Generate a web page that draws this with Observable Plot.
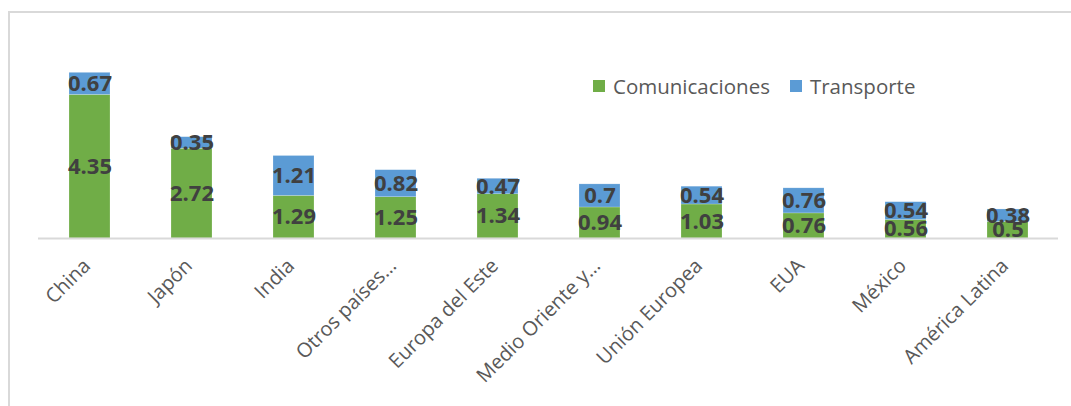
<!DOCTYPE html>
<html>
<head>
<meta charset="utf-8">
<script src="https://cdn.jsdelivr.net/npm/d3@7"></script>
<script src="https://cdn.jsdelivr.net/npm/@observablehq/plot@0.6"></script>
<style>
  html, body { margin: 0; padding: 0; background: #fff; }
  #wrap { position: relative; width: 1071px; height: 406px; overflow: hidden; font-family: "Open Sans", sans-serif; }
  #frame { position: absolute; left: 8px; top: 11px; right: 0; bottom: -5px; border-top: 2px solid #d9d9d9; border-left: 2px solid #d9d9d9; }
  #chart { position: absolute; left: 0; top: 0; }
  #legend { position: absolute; left: 593px; top: 72px; display: flex; align-items: center; font-size: 20.5px; color: #595959; white-space: nowrap; }
  #legend .sw { display: inline-block; width: 12px; height: 12px; margin-right: 8px; }
  #legend .item { display: flex; align-items: center; margin-right: 20px; }
</style>
</head>
<body>
<div id="wrap">
  <div id="frame"></div>
  <div id="chart"></div>
  <div id="legend"></div>
</div>
<script>
const categories = ["China", "Japón", "India", "Otros países…", "Europa del Este", "Medio Oriente y…", "Unión Europea", "EUA", "México", "América Latina"];
const comunicaciones = [4.35, 2.72, 1.29, 1.25, 1.34, 0.94, 1.03, 0.76, 0.56, 0.5];
const transporte = [0.67, 0.35, 1.21, 0.82, 0.47, 0.7, 0.54, 0.76, 0.54, 0.38];
const seriesNames = ["Comunicaciones", "Transporte"];
const seriesColors = ["#70ad47", "#5b9bd5"];

const data = [];
categories.forEach((c, i) => {
  data.push({cat: c, series: seriesNames[0], value: comunicaciones[i]});
  data.push({cat: c, series: seriesNames[1], value: transporte[i]});
});

const chart = Plot.plot({
  width: 1071,
  height: 406,
  marginLeft: 38,
  marginRight: 13,
  marginTop: 40,
  marginBottom: 168,
  style: {fontFamily: "Open Sans, sans-serif", background: "transparent", overflow: "visible"},
  x: {domain: categories, paddingInner: 0.6, paddingOuter: 0.3, label: null},
  y: {domain: [0, 6], axis: null},
  color: {domain: seriesNames, range: seriesColors},
  marks: [
    Plot.barY(data, Plot.stackY({x: "cat", y: "value", fill: "series", order: seriesNames, stroke: "#ffffff", strokeOpacity: 0.4, strokeWidth: 0.5})),
    Plot.ruleY([0], {stroke: "#d9d9d9", strokeWidth: 2}),
    Plot.text(data, Plot.stackY({x: "cat", y: "value", z: "series", order: seriesNames, text: d => String(d.value), fill: "#404040", fontSize: 22, fontWeight: "bold"})),
    Plot.axisX({tickSize: 0, tickPadding: 24, tickRotate: -45, dx: -3, fontSize: 20, color: "#595959", label: null})
  ]
});
document.getElementById("chart").appendChild(chart);

const legend = document.getElementById("legend");
seriesNames.forEach((name, i) => {
  const item = document.createElement("span");
  item.className = "item";
  const sw = document.createElement("span");
  sw.className = "sw";
  sw.style.background = seriesColors[i];
  item.appendChild(sw);
  item.appendChild(document.createTextNode(name));
  legend.appendChild(item);
});
</script>
</body>
</html>
